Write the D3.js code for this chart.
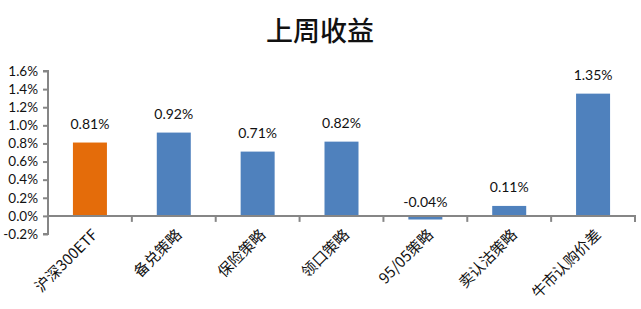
<!DOCTYPE html>
<head>
    <meta charset="utf-8">
    <title>上周收益</title>
    <script src="https://d3js.org/d3.v7.min.js"></script>
    <style>
        body { margin: 0; background: #fff; }
        text { font-family: Lato, "Noto Sans CJK SC", sans-serif; }
    </style>
</head>
<body>
    <svg width="641" height="309"></svg>
    <script>
        var categories = ["沪深300ETF", "备兑策略", "保险策略", "领口策略", "95/05策略", "卖认沽策略", "牛市认购价差"];
        var values = [0.81, 0.92, 0.71, 0.82, -0.04, 0.11, 1.35];
        var yTicks = [-0.2, 0, 0.2, 0.4, 0.6, 0.8, 1.0, 1.2, 1.4, 1.6];

        var svg = d3.select("svg");
        var plotLeft = 48, plotRight = 635, plotTop = 71, plotBottom = 234;

        var xb = d3.scaleBand().domain(categories).range([plotLeft, plotRight]);

        var y = d3.scaleLinear()
            .domain([-0.2, 1.6])
            .range([plotBottom, plotTop]);

        svg.append("text")
            .attr("x", 320)
            .attr("y", 41)
            .attr("text-anchor", "middle")
            .attr("font-size", "27px")
            .attr("font-weight", "500")
            .style("font-family", "'Noto Sans CJK SC'")
            .attr("fill", "#111")
            .text("上周收益");

        svg.selectAll("rect.bar")
            .data(values)
            .enter().append("rect")
            .attr("class", "bar")
            .attr("x", function(d, i) { return xb(categories[i]) + xb.bandwidth() / 2 - 17; })
            .attr("width", 34)
            .attr("y", function(d) { return y(Math.max(d, 0)); })
            .attr("height", function(d) { return Math.abs(y(d) - y(0)); })
            .attr("fill", function(d, i) { return i == 0 ? "#E46C0A" : "#4F81BD"; });

        svg.selectAll("text.val")
            .data(values)
            .enter().append("text")
            .attr("class", "val")
            .attr("x", function(d, i) { return xb(categories[i]) + xb.bandwidth() / 2; })
            .attr("y", function(d) { return d < 0 ? y(0) - 9 : y(d) - 14; })
            .attr("text-anchor", "middle")
            .attr("font-size", "14px")
            .attr("fill", "#111")
            .text(function(d) { return d.toFixed(2) + "%"; });

        // y axis
        var yAxis = svg.append("g")
            .attr("transform", "translate(" + plotLeft + ",0)")
            .call(d3.axisLeft(y)
                .tickValues(yTicks)
                .tickSize(5)
                .tickPadding(5)
                .tickFormat(function(d) { return d.toFixed(1) + "%"; }));
        yAxis.selectAll("line, path").attr("stroke", "#868686").attr("stroke-width", 2);
        yAxis.select(".domain").attr("d", "M-5," + plotTop + "H0V" + plotBottom + "H-5");
        yAxis.selectAll("text").attr("font-size", "13.5px").attr("fill", "#111")
            .style("font-family", "Lato, sans-serif");

        // x axis at zero
        var xAxis = svg.append("g")
            .attr("transform", "translate(0," + y(0) + ")");
        xAxis.append("line")
            .attr("x1", plotLeft).attr("x2", plotRight + 1)
            .attr("stroke", "#868686").attr("stroke-width", 2);
        xAxis.selectAll("line.tick")
            .data(categories)
            .enter().append("line")
            .attr("class", "tick")
            .attr("x1", function(d) { return xb(d) + xb.bandwidth(); })
            .attr("x2", function(d) { return xb(d) + xb.bandwidth(); })
            .attr("y1", 0).attr("y2", 6)
            .attr("stroke", "#868686").attr("stroke-width", 2);

        svg.selectAll("text.cat")
            .data(categories)
            .enter().append("text")
            .attr("class", "cat")
            .attr("transform", function(d) {
                return "translate(" + (xb(d) + xb.bandwidth() / 2 + 5) + "," + 232 + ") rotate(-45)";
            })
            .attr("text-anchor", "end")
            .attr("dy", "0.35em")
            .attr("font-size", "15px")
            .attr("fill", "#111")
            .style("font-family", "'Noto Sans CJK SC', sans-serif")
            .text(function(d) { return d; });
    </script>
</body>
